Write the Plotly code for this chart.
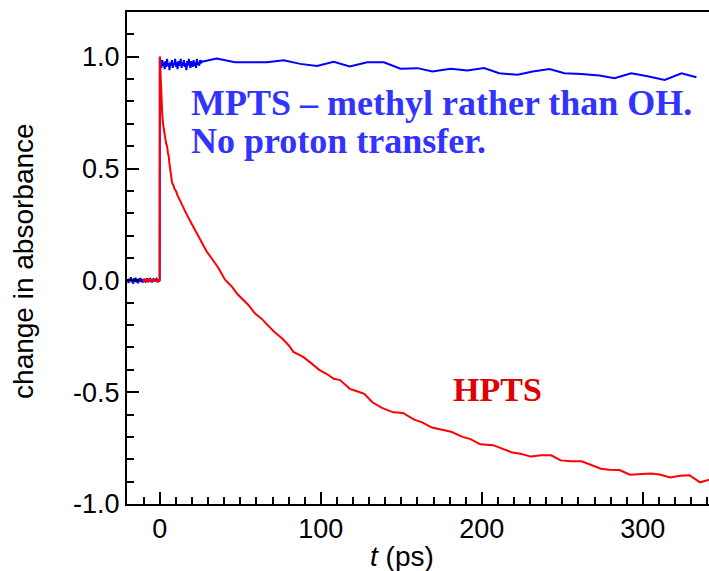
import plotly.graph_objects as go

# ---------------- data ----------------
# HPTS (red)
hpts_t = [-10.5, -10, -9.5, -9, -8.5, -8, -7.5, -7, -6.5, -6, -5.5, -5, -4.5, -4, -3.5, -3,
          -2.5, -2, -1.5, -1, -0.5, -0.1,
          0.0, 0.3, 0.6, 1.0, 1.5, 2.0, 2.5, 3.0, 3.5, 4.0, 4.5, 5.0, 5.5, 6.0, 6.5, 7.0, 7.5,
          8.0, 8.5, 9.0, 10, 11, 12.5, 14.5, 16.6, 20, 23, 26, 29, 33, 36, 40.5, 45, 48, 52,
          55, 59, 63, 67, 71, 76, 80, 83, 89, 94, 99, 104, 108, 112, 118, 122, 127, 132, 138,
          145, 151, 158, 163, 169, 175, 181, 188, 193, 199, 207, 211, 219, 224, 230.5, 237,
          243, 249, 255.5, 262, 267, 274, 279, 285.5, 292, 299, 305, 310.5, 317, 323, 329,
          335.5, 342]
hpts_y = [0.004, -0.006, 0.008, -0.003, 0.005, -0.008, 0.002, 0.007, -0.005, 0.003, -0.007,
          0.006, -0.002, 0.004, -0.006, 0.007, -0.004, 0.002, -0.008, 0.005, -0.003, 0.0,
          1.0, 0.93, 0.86, 0.80, 0.74, 0.70, 0.67, 0.65, 0.63, 0.61, 0.60, 0.57, 0.555, 0.52,
          0.49, 0.47, 0.44, 0.43, 0.425, 0.41, 0.40, 0.38, 0.356, 0.33, 0.296, 0.25, 0.21,
          0.17, 0.13, 0.09, 0.06, 0.003, -0.03, -0.06, -0.087, -0.11, -0.147, -0.17, -0.20,
          -0.23, -0.26, -0.29, -0.32, -0.342, -0.37, -0.40, -0.42, -0.44, -0.446, -0.485,
          -0.495, -0.507, -0.545, -0.57, -0.59, -0.593, -0.623, -0.635, -0.658, -0.668,
          -0.677, -0.70, -0.71, -0.733, -0.737, -0.748, -0.77, -0.775, -0.788, -0.782,
          -0.782, -0.805, -0.809, -0.809, -0.822, -0.842, -0.847, -0.848, -0.869, -0.865,
          -0.864, -0.868, -0.881, -0.874, -0.871, -0.903, -0.89]

# MPTS (blue)
mpts_t = [-20, -19.5, -19, -18.5, -18, -17.5, -17, -16.5, -16, -15.5, -15, -14.5, -14, -13.5,
          -13, -12.5, -12, -11.5, -11, -10.5, -10, -9, -8, -7, -6, -5, -4, -3, -2, -1, -0.1,
          0.0, 0.5, 1, 1.5, 2, 2.5, 3, 3.5, 4, 4.5, 5, 5.5, 6, 6.5, 7, 7.5, 8, 8.5, 9, 9.5,
          10, 10.5, 11, 11.5, 12, 12.5, 13, 13.5, 14, 14.5, 15, 15.5, 16, 16.5, 17, 17.5, 18,
          18.5, 19, 19.5, 20, 20.5, 21, 21.5, 22, 22.5, 23, 23.5, 24, 24.5, 25, 25.5, 26,
          27, 35.3, 46.7, 57.1, 66.5, 76.9, 87.2, 97.6, 108, 118, 128.8, 139.1, 149.5, 160,
          169.3, 180.7, 191, 201.4, 210.8, 222.2, 231.6, 242, 251.3, 261.7, 273.1, 282.4,
          292.8, 302.2, 313.6, 324, 333.3, 341.6]
mpts_y = [0.005, -0.012, 0.008, -0.004, 0.014, -0.009, 0.003, -0.015, 0.01, -0.006, 0.012,
          -0.01, 0.004, -0.013, 0.009, -0.005, 0.011, -0.008, 0.006, -0.01, 0.004, -0.006,
          0.008, -0.004, 0.006, -0.008, 0.005, -0.003, 0.007, -0.005, 0.0,
          1.0, 0.97, 0.95, 0.985, 0.96, 0.975, 0.945, 0.98, 0.955, 0.99, 0.96, 0.97, 0.94,
          0.975, 0.96, 0.985, 0.95, 0.97, 0.965, 0.99, 0.955, 0.975, 0.945, 0.98, 0.96, 0.97,
          0.99, 0.95, 0.975, 0.96, 0.985, 0.955, 0.97, 0.94, 0.98, 0.96, 0.99, 0.965, 0.95,
          0.98, 0.97, 0.955, 0.985, 0.96, 0.975, 0.95, 0.99, 0.965, 0.975, 0.96, 0.985,
          0.97, 0.98, 0.979, 0.992, 0.975, 0.975, 0.975, 0.984, 0.968, 0.959, 0.977, 0.956,
          0.975, 0.975, 0.946, 0.949, 0.934, 0.946, 0.938, 0.949, 0.926, 0.919, 0.934,
          0.945, 0.926, 0.923, 0.916, 0.904, 0.926, 0.914, 0.896, 0.926, 0.908]

x_tick_vals = [0, 100, 200, 300]
x_tick_text = ["0", "100", "200", "300"]
y_tick_vals = [-1.0, -0.5, 0.0, 0.5, 1.0]
y_tick_text = ["-1.0", "-0.5", "0.0", "0.5", "1.0"]

label_mpts_1 = "MPTS – methyl rather than OH."
label_mpts_2 = "No proton transfer."
label_hpts = "HPTS"
x_title = "<i>t</i> (ps)"
y_title = "change in absorbance"

# ---------------- figure ----------------
fig = go.Figure()
fig.add_trace(go.Scatter(x=mpts_t, y=mpts_y, mode="lines",
                         line=dict(color="#0000ff", width=2), showlegend=False))
fig.add_trace(go.Scatter(x=hpts_t, y=hpts_y, mode="lines",
                         line=dict(color="#ff0000", width=2), showlegend=False))

tickfont = dict(family="Liberation Sans, Arial, sans-serif", size=27, color="black")

fig.update_layout(
    width=709, height=571,
    margin=dict(l=127, r=0, t=12, b=67),
    paper_bgcolor="white", plot_bgcolor="white",
    xaxis=dict(range=[-20.4, 341.1], showgrid=False, zeroline=False,
               showline=True, linecolor="black", linewidth=2, mirror=True,
               tickmode="array", tickvals=x_tick_vals, ticktext=x_tick_text,
               ticks="inside", ticklen=12, tickwidth=1.5, tickcolor="black",
               tickfont=tickfont,
               minor=dict(tickmode="linear", tick0=0, dtick=10, ticks="inside",
                          ticklen=7, tickwidth=1.5, tickcolor="black")),
    yaxis=dict(range=[-1.0, 1.2], showgrid=False, zeroline=False,
               showline=True, linecolor="black", linewidth=2, mirror=False,
               tickmode="array", tickvals=y_tick_vals, ticktext=y_tick_text,
               ticks="inside", ticklen=12, tickwidth=1.5, tickcolor="black",
               tickfont=tickfont,
               minor=dict(tickmode="linear", tick0=0, dtick=0.1, ticks="inside",
                          ticklen=7, tickwidth=1.5, tickcolor="black")),
)

serif_bold = "Liberation Serif, Times New Roman, serif"
fig.add_annotation(x=18.1, y=0.794, xref="x", yref="y", text="<b>" + label_mpts_1 + "</b>",
                   showarrow=False, xanchor="left", yanchor="middle",
                   font=dict(family=serif_bold, size=36, color="#3333ff"))
fig.add_annotation(x=18.1, y=0.625, xref="x", yref="y", text="<b>" + label_mpts_2 + "</b>",
                   showarrow=False, xanchor="left", yanchor="middle",
                   font=dict(family=serif_bold, size=36, color="#3333ff"))
fig.add_annotation(x=180.9, y=-0.488, xref="x", yref="y", text="<b>" + label_hpts + "</b>",
                   showarrow=False, xanchor="left", yanchor="middle",
                   font=dict(family=serif_bold, size=34, color="#e00000"))

fig.add_annotation(x=150.4, y=-0.106, xref="x", yref="paper", text=x_title,
                   showarrow=False, xanchor="center", yanchor="middle",
                   font=dict(family="Liberation Sans, Arial, sans-serif", size=28, color="black"))
fig.add_annotation(x=-0.177, y=0.494, xref="paper", yref="paper", text=y_title,
                   showarrow=False, textangle=-90, xanchor="center", yanchor="middle",
                   font=dict(family="Liberation Sans, Arial, sans-serif", size=28, color="black"))

# remove the default 8px page margin so the 709x571 figure fills the window exactly
fig.write_html("out.html", config={"displayModeBar": False},
               post_script="document.body.style.margin='0';document.body.style.overflow='hidden';")
